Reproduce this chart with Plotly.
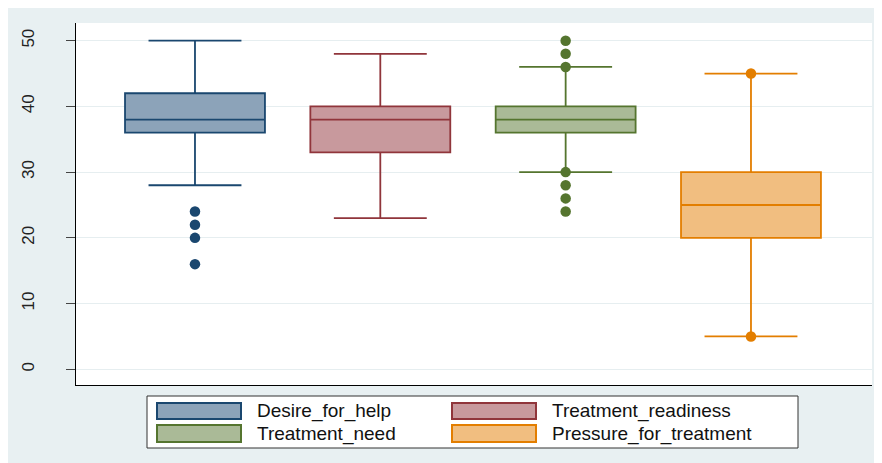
import plotly.graph_objects as go

# ---- data ----
categories = ["Desire_for_help", "Treatment_readiness", "Treatment_need", "Pressure_for_treatment"]
q1 = [36, 33, 36, 20]
median = [38, 38, 38, 25]
q3 = [42, 40, 40, 30]
lower_whisker = [28, 23, 30, 5]
upper_whisker = [50, 48, 46, 45]
outliers = [[24, 22, 20, 16], [], [50, 48, 46, 30, 28, 26, 24], [45, 5]]
y_ticks = [0, 10, 20, 30, 40, 50]

# ---- styles ----
line_colors = ["#1a476f", "#90353b", "#55752f", "#e37e00"]
fill_colors = ["#8ca3b9", "#c8999d", "#aaba97", "#f1be80"]
outer_bg = "#e8f0f2"
font_family = "Liberation Sans, Arial, sans-serif"

OFF = 8  # page body margin
W, H = 882 - OFF, 463 - OFF
L, T = 76 - OFF, 23 - OFF
R = W - (872 - OFF)
B = H - (385 - OFF)
PW, PH = W - L - R, H - T - B


def px(x):  # page pixel -> paper fraction
    return (x - OFF - L) / PW


def py(y):
    return (H - B - (y - OFF)) / PH


fig = go.Figure()
for i, name in enumerate(categories):
    fig.add_trace(go.Box(
        x=[i], q1=[q1[i]], median=[median[i]], q3=[q3[i]],
        lowerfence=[lower_whisker[i]], upperfence=[upper_whisker[i]],
        name=name, width=0.755, whiskerwidth=0.664,
        fillcolor=fill_colors[i], line=dict(color=line_colors[i], width=1.8),
        boxpoints=False, showlegend=False, hoverinfo="skip",
    ))
    if outliers[i]:
        fig.add_trace(go.Scatter(
            x=[i] * len(outliers[i]), y=outliers[i], mode="markers",
            marker=dict(color=line_colors[i], size=10.5, line=dict(width=0)),
            showlegend=False, hoverinfo="skip",
        ))

shapes = [
    dict(type="rect", xref="paper", yref="paper", x0=px(147), x1=px(798), y0=py(448), y1=py(396),
         fillcolor="white", line=dict(color="#333333", width=1)),
]
annotations = []
col_sw = [(157, 241), (452, 536)]
col_tx = [255, 550]
row_sw = [(403, 419), (425, 442)]
row_c = [411, 433.5]
for i, name in enumerate(categories):
    r, c = divmod(i, 2)
    shapes.append(dict(type="rect", xref="paper", yref="paper",
                       x0=px(col_sw[c][0]), x1=px(col_sw[c][1]),
                       y0=py(row_sw[r][1]), y1=py(row_sw[r][0]),
                       fillcolor=fill_colors[i], line=dict(color=line_colors[i], width=2)))
    annotations.append(dict(xref="paper", yref="paper", x=px(col_tx[c]), y=py(row_c[r]),
                            text=name, showarrow=False, xanchor="left", yanchor="middle",
                            font=dict(size=19, color="#111111", family=font_family)))

fig.update_layout(
    width=W, height=H,
    margin=dict(l=L, r=R, t=T, b=B, pad=0),
    paper_bgcolor=outer_bg, plot_bgcolor="white",
    font=dict(family=font_family),
    shapes=shapes, annotations=annotations,
    xaxis=dict(range=[-0.642, 3.653], showticklabels=False, ticks="", showgrid=False,
               zeroline=False, showline=True, linecolor="#000000", linewidth=1),
    yaxis=dict(range=[-2.39, 52.69], tickvals=y_ticks, ticktext=[str(v) for v in y_ticks],
               tickangle=-90, ticks="outside", ticklen=9, tickcolor="#444444", tickwidth=1,
               tickfont=dict(size=17, color="#222222", family=font_family),
               ticklabelstandoff=25,
               showgrid=True, gridcolor="#e6eef0", gridwidth=1,
               zeroline=False, showline=True, linecolor="#000000", linewidth=1),
)

fig.write_html("out.html")
